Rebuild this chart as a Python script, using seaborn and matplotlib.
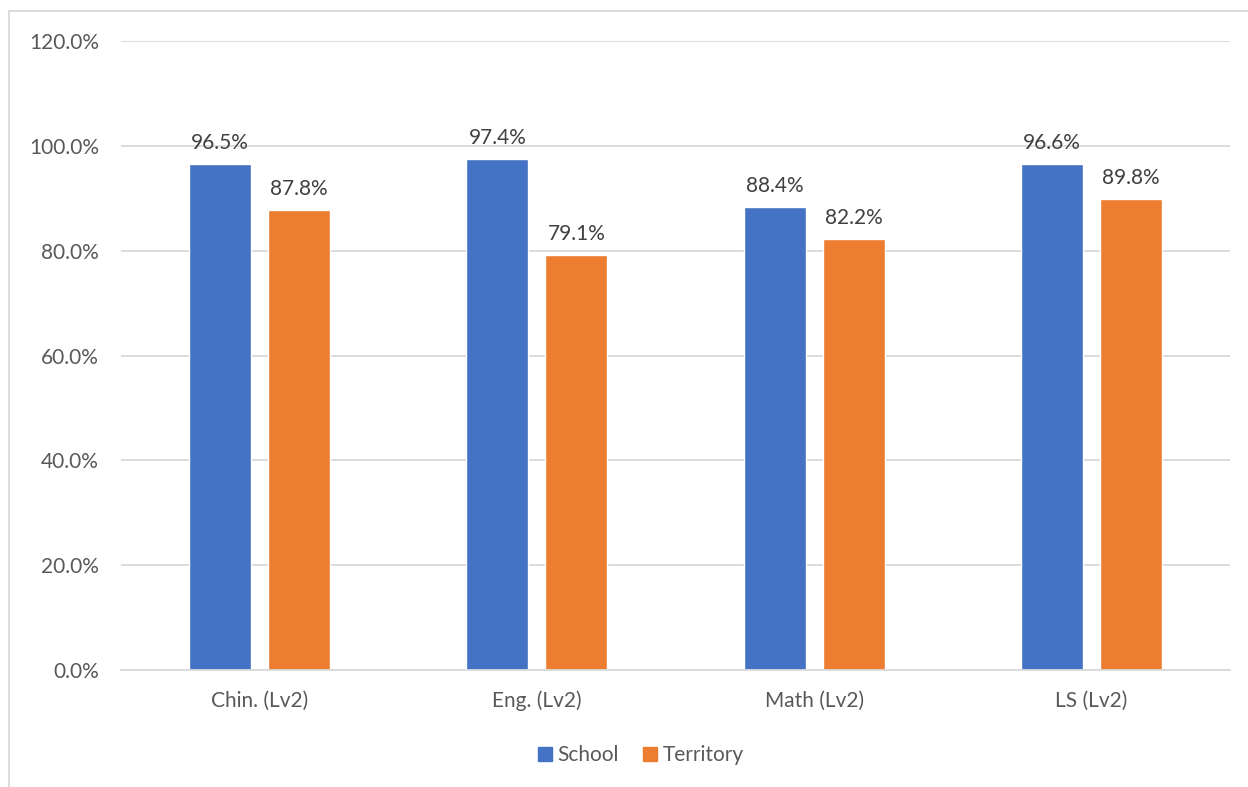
import matplotlib
matplotlib.use("Agg")
import matplotlib.pyplot as plt
import seaborn as sns
import pandas as pd
from matplotlib.lines import Line2D

categories = ["Chin. (Lv2)", "Eng. (Lv2)", "Math (Lv2)", "LS (Lv2)"]
school = [96.5, 97.4, 88.4, 96.6]
territory = [87.8, 79.1, 82.2, 89.8]
series_names = ["School", "Territory"]
colors = ["#4472C4", "#ED7D31"]
yticks = [0, 20, 40, 60, 80, 100, 120]

df = pd.DataFrame({
    "cat": categories * 2,
    "val": school + territory,
    "series": [series_names[0]] * 4 + [series_names[1]] * 4,
})

sns.set_theme(style="white")
plt.rcParams["font.family"] = ["Lato", "DejaVu Sans"]
text_color = "#595959"
fs = 15

fig = plt.figure(figsize=(12.48, 7.87), dpi=100)
ax = fig.add_axes([121 / 1248, 1 - 670 / 787, (1230 - 121) / 1248, (670 - 41) / 787])

sns.barplot(data=df, x="cat", y="val", hue="series", palette=colors,
            width=0.57, gap=0.214, ax=ax, legend=False, saturation=1)

for c in ax.containers:
    ax.bar_label(c, labels=[f"{v:.1f}%" for v in c.datavalues], padding=8,
                 fontsize=fs, color="#404040")

ax.set_ylim(0, 120)
ax.set_xlim(-0.5, 3.5)
ax.set_yticks(yticks)
ax.set_yticklabels([f"{t:.1f}%" for t in yticks])
ax.yaxis.grid(True, color="#D9D9D9", linewidth=1.3)
ax.set_axisbelow(True)
for s in ["top", "right", "left"]:
    ax.spines[s].set_visible(False)
ax.spines["bottom"].set_color("#D9D9D9")
ax.spines["bottom"].set_linewidth(1.3)
ax.tick_params(axis="both", length=0, labelsize=fs, labelcolor=text_color)
ax.tick_params(axis="y", pad=16)
ax.tick_params(axis="x", pad=15)
ax.set_xlabel("")
ax.set_ylabel("")

handles = [Line2D([0], [0], marker="s", linestyle="", markersize=10,
                  markerfacecolor=c, markeredgecolor=c) for c in colors]
fig.legend(handles, series_names, loc="center", bbox_to_anchor=(0.512, 1 - 755 / 787),
           ncol=2, frameon=False, fontsize=fs, labelcolor=text_color,
           handletextpad=0.1, columnspacing=1.0, handlelength=1.0)

# chart border (left and top visible)
fig.add_artist(Line2D([9 / 1248, 9 / 1248], [0, 1 - 11 / 787], color="#D9D9D9", linewidth=1.3))
fig.add_artist(Line2D([9 / 1248, 1], [1 - 11 / 787, 1 - 11 / 787], color="#D9D9D9", linewidth=1.3))

fig.savefig("out.png", dpi=100)
